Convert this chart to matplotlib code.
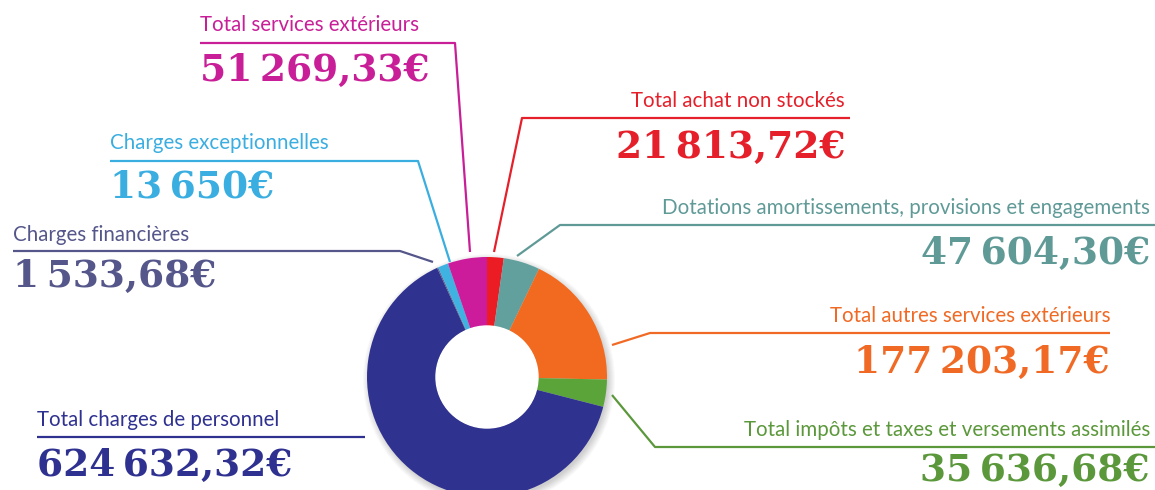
import matplotlib
matplotlib.use("Agg")
import matplotlib.pyplot as plt
from matplotlib.patches import Circle

# data, clockwise from the top of the ring
labels = ['Total achat non stockés',
          'Dotations amortissements, provisions et engagements',
          'Total autres services extérieurs',
          'Total impôts et taxes et versements assimilés',
          'Total charges de personnel',
          'Charges financières',
          'Charges exceptionnelles',
          'Total services extérieurs']
values = [21813.72, 47604.30, 177203.17, 35636.68, 624632.32, 1533.68, 13650.00, 51269.33]
colors = ['#ec1c24', '#62a09e', '#f26a1f', '#5ba43a', '#30328f', '#5a5c8e', '#3fb2e2', '#cc1b9b']
text_colors = ['#e5202a', '#5f9a97', '#f06a25', '#5b983b', '#2f3190', '#55568a', '#3aaee0', '#c81f98']

W, H = 1155, 490
# label layout in pixels (x, y of label, alignment, underline start/end, leader end)
layout = [
    dict(x=845, y=101, ha='right', vy=147, ux=(522, 850), uy=118, lead=(494, 252)),
    dict(x=1150, y=208, ha='right', vy=253, ux=(560, 1155), uy=225, lead=(517, 256)),
    dict(x=1110, y=316, ha='right', vy=362, ux=(650, 1110), uy=333, lead=(612, 345)),
    dict(x=1150, y=430, ha='right', vy=470, ux=(655, 1155), uy=447, lead=(612, 395)),
    dict(x=37, y=420, ha='left', vy=465, ux=(37, 365), uy=437, lead=None),
    dict(x=13, y=235, ha='left', vy=276, ux=(13, 400), uy=251, lead=(433, 262)),
    dict(x=110, y=143, ha='left', vy=187, ux=(110, 418), uy=161, lead=(450, 262)),
    dict(x=200, y=25, ha='left', vy=70, ux=(200, 455), uy=43, lead=(470, 252)),
]


def euro(v):
    whole = int(round(v * 100)) // 100
    cents = int(round(v * 100)) % 100
    s = f'{whole:,}'.replace(',', '\u2009')
    if cents:
        s += f',{cents:02d}'
    return s + '€'


fig = plt.figure(figsize=(W / 100, H / 100), dpi=100)
ax = fig.add_axes([0, 0, 1, 1])

cx, cy, R, r = 487, H - 377, 120, 51

# soft shadow behind the ring
for k in range(8):
    ax.add_patch(Circle((cx + 2, cy - 3), R + 6 - k, color='#000000', alpha=0.025, lw=0, zorder=0))

ax.pie(values, colors=colors, startangle=90, counterclock=False,
       center=(cx, cy), radius=R,
       wedgeprops=dict(width=R - r, linewidth=0))
ax.add_patch(Circle((cx, cy), r, color='white', zorder=5))

for lab, val, tc, lay in zip(labels, values, text_colors, layout):
    ax.text(lay['x'], H - lay['y'], lab, color=tc, fontsize=14.8, family='Lato',
            ha=lay['ha'], va='center')
    ax.text(lay['x'], H - lay['vy'], euro(val), color=tc, fontsize=27,
            family='DejaVu Serif', weight='bold', ha=lay['ha'], va='center')
    x0, x1 = lay['ux']
    if lay['lead'] is None:
        xs, ys = [x0, x1], [lay['uy'], lay['uy']]
    elif lay['ha'] == 'left':
        xs, ys = [x0, x1, lay['lead'][0]], [lay['uy'], lay['uy'], lay['lead'][1]]
    else:
        xs, ys = [x1, x0, lay['lead'][0]], [lay['uy'], lay['uy'], lay['lead'][1]]
    ax.plot(xs, [H - y for y in ys], color=tc, lw=1.6, zorder=3, solid_capstyle='butt')

ax.set_xlim(0, W)
ax.set_ylim(0, H)
ax.set_aspect('auto')
ax.axis('off')

fig.savefig('out.png', dpi=100, facecolor='white')
